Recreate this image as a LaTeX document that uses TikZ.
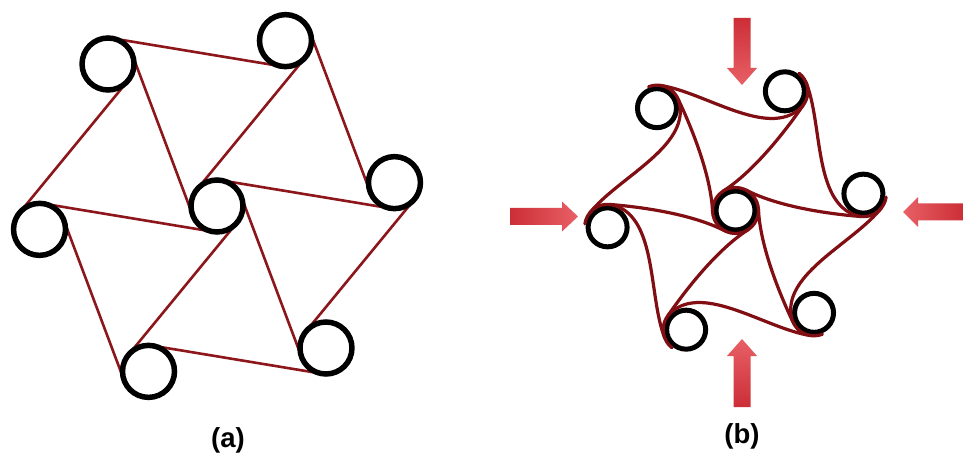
\documentclass[tikz,border=0pt]{standalone}
\usepackage{fontspec}
\newfontfamily\labfont{Liberation Sans}
\usetikzlibrary{calc}
\pgfdeclarelayer{back}
\pgfdeclarelayer{bg}
\pgfsetlayers{back,bg,main}
\definecolor{ligred}{RGB}{140,22,26}
\definecolor{ligredb}{RGB}{128,14,18}
\definecolor{arrdark}{RGB}{204,46,54}
\definecolor{arrlight}{RGB}{232,96,102}
\tikzset{
  ringA/.style={circle, draw=black, line width=5.5pt, minimum size=52pt, inner sep=0pt},
  ringB/.style={circle, draw=black, line width=5pt, minimum size=39pt, inner sep=0pt},
  ligA/.style={draw=ligred, line width=2.6pt},
  ligB/.style={draw=ligredb, line width=3.2pt, line cap=round},
  pusharrow/.style={draw=none},
  lab/.style={font=\labfont\bfseries\fontsize{27.5}{32}\selectfont, inner sep=0pt}
}
\begin{document}
\begin{tikzpicture}[x=1pt,y=1pt]
\begin{pgfonlayer}{back}
\fill[white] (0,0) rectangle (963,458);
\end{pgfonlayer}
\useasboundingbox (0,0) rectangle (963,458);

% ---------- panel (a) ----------
\node[ringA] (ac) at (217,252) {};
\foreach \k in {0,...,5}{
  \path (ac) ++({7.5+60*\k}:179) node[ringA] (a\k) {};
}
\begin{pgfonlayer}{bg}
\foreach \k in {0,...,5}{
  \pgfmathtruncatemacro\j{mod(\k+1,6)}
  \draw[ligA] ($(a\k)!26pt!73.11:(a\j)$) -- ($(a\j)!26pt!73.11:(a\k)$);
  \draw[ligA] ($(ac)!26pt!73.11:(a\k)$) -- ($(a\k)!26pt!73.11:(ac)$);
}
\end{pgfonlayer}
\node[lab] (la) at (228,18) {(a)};

% ---------- panel (b) ----------
\node[ringB] (bc) at (735.5,247.5) {};
\foreach \k in {0,...,5}{
  \path (bc) ++({7.5+60*\k}:129) node[ringB] (b\k) {};
}
\foreach \k in {0,...,5}{
  \pgfmathsetmacro\p{7.5+60*\k}
  \pgfmathtruncatemacro\j{mod(\k+5,6)}
  \draw[ligB] ($(b\k)+({\p-46}:23)$) .. controls +({\p-136}:45) and +({\p+95}:45) .. ($(b\j)+({\p-175}:23)$);
  \draw[ligB] ($(b\k)+({\p-105}:23)$) .. controls +({\p-192}:32) and +({\p-35}:36) .. ($(bc)+({\p+55}:23)$);
  \draw[ligB] ($(b\k)+({\p-115}:23)$) arc[start angle={\p-115}, end angle={\p-16}, radius=23];
}
\draw[ligB] (bc) circle[radius=23];

% compression arrows
\path[pusharrow, top color=arrdark, bottom color=arrlight]
  (733.5,440) -- (750.5,440) -- (750.5,390) -- (757,390) -- (742,373) -- (727,390) -- (733.5,390) -- cycle;
\path[pusharrow, top color=arrlight, bottom color=arrdark]
  (733.5,51) -- (750.5,51) -- (750.5,102) -- (757,102) -- (742,119) -- (727,102) -- (733.5,102) -- cycle;
\path[pusharrow, left color=arrdark, right color=arrlight]
  (510,233) -- (562,233) -- (562,226.5) -- (578,241.5) -- (562,256.5) -- (562,250) -- (510,250) -- cycle;
\path[pusharrow, left color=arrlight, right color=arrdark]
  (963,237.5) -- (918,237.5) -- (918,231) -- (903,246) -- (918,261) -- (918,254.5) -- (963,254.5) -- cycle;

\node[lab] (lb) at (742,22) {(b)};
\end{tikzpicture}
\end{document}
